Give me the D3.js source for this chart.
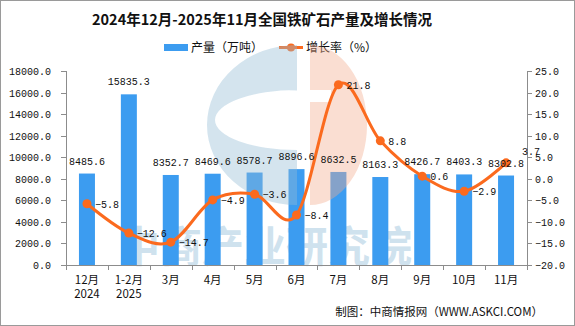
<!DOCTYPE html>
<html><head><meta charset="utf-8">
<script src="https://cdn.jsdelivr.net/npm/d3@7/dist/d3.min.js"></script>
<style>
html,body{margin:0;padding:0;background:#fff;}
svg{display:block;}
</style></head>
<body>
<svg id="c" width="575" height="326"></svg>
<script>
const categories = ["12月","1-2月","3月","4月","5月","6月","7月","8月","9月","10月","11月"];
const yearLabels = ["2024","2025","","","","","","","","",""];
const output = [8485.6,15835.3,8352.7,8469.6,8578.7,8896.6,8632.5,8163.3,8426.7,8403.3,8302.8];
const growth = [-5.8,-12.6,-14.7,-4.9,-3.6,-8.4,21.8,8.8,0.6,-2.9,3.7];
const leftTicks = [0,2000,4000,6000,8000,10000,12000,14000,16000,18000];
const rightTicks = [-20,-15,-10,-5,0,5,10,15,20,25];
const title = "2024年12月-2025年11月全国铁矿石产量及增长情况";
const legendNames = ["产量（万吨）","增长率（%）"];
const credit = "制图：中商情报网（WWW.ASKCI.COM）";

const svg = d3.select("#c");
const W = 575, H = 326;
const L = 66, R = 527, T = 71, B = 265;
const barColor = "#3c9cf0", lineColor = "#fb6a1e", axisColor = "#8c8c8c";
const mono = "'Liberation Mono','DejaVu Sans Mono',monospace";
const cjk = "'Noto Sans CJK SC','Noto Sans',sans-serif";

svg.append("rect").attr("x",0.5).attr("y",0.5).attr("width",W-1).attr("height",H-1)
  .attr("fill","#fff").attr("stroke","#9a9a9a");

const x = d3.scaleBand().domain(categories).range([L,R]).paddingInner(0).paddingOuter(0);
const yL = d3.scaleLinear().domain([0,18000]).range([B,T]);
const yR = d3.scaleLinear().domain([-20,25]).range([B,T]);

// watermark text (behind bars)
svg.append("text").attr("x",118).attr("y",262)
  .attr("font-family",cjk).attr("font-weight","bold").attr("font-size",42)
  .attr("fill","#cfe2ee").text("中商产业研究院");

// title
svg.append("text").attr("x",262).attr("y",25).attr("text-anchor","middle")
  .attr("font-family",cjk).attr("font-weight","bold").attr("font-size",14.5)
  .attr("fill","#111").text(title);

// legend
svg.append("rect").attr("x",164).attr("y",44).attr("width",24).attr("height",7).attr("fill",barColor);
svg.append("text").attr("x",191).attr("y",52).attr("font-family",cjk).attr("font-size",12)
  .attr("fill","#111").text(legendNames[0]);
svg.append("line").attr("x1",279).attr("x2",303).attr("y1",47.5).attr("y2",47.5)
  .attr("stroke",lineColor).attr("stroke-width",3);
svg.append("circle").attr("cx",291).attr("cy",47.5).attr("r",4).attr("fill",lineColor);
svg.append("text").attr("x",306).attr("y",52).attr("font-family",cjk).attr("font-size",12)
  .attr("fill","#111").text(legendNames[1]);

// bars
const bw = 16;
svg.append("g").selectAll("rect").data(output).join("rect")
  .attr("x",(d,i)=>x(categories[i])+x.bandwidth()/2-bw/2)
  .attr("y",d=>yL(d)).attr("width",bw).attr("height",d=>B-yL(d))
  .attr("fill",barColor);

// logo watermark (over bars, translucent)
const wm = svg.append("g");
wm.append("path")
  .attr("d","M297,45 A90,80 0 0 0 297,205 Z M297,90 A82,30 0 0 0 297,150 Z")
  .attr("fill","#94bcd5").attr("opacity",0.4).attr("fill-rule","evenodd");
wm.append("path")
  .attr("d","M310,45 A57,80 0 0 1 310,205 Z M310,90 L331,90 L331,102 L310,102 Z")
  .attr("fill","#f3ad8f").attr("opacity",0.4).attr("fill-rule","evenodd");

// axes
const ax = svg.append("g").attr("stroke",axisColor).attr("fill","none");
ax.append("line").attr("x1",L+0.5).attr("x2",L+0.5).attr("y1",T).attr("y2",B);
ax.append("line").attr("x1",R+0.5).attr("x2",R+0.5).attr("y1",T).attr("y2",B);
ax.append("line").attr("x1",L).attr("x2",R+1).attr("y1",B+0.5).attr("y2",B+0.5);
leftTicks.forEach(t=>{
  ax.append("line").attr("x1",L-5).attr("x2",L).attr("y1",Math.round(yL(t))+0.5).attr("y2",Math.round(yL(t))+0.5);
});
rightTicks.forEach(t=>{
  ax.append("line").attr("x1",R).attr("x2",R+5).attr("y1",Math.round(yR(t))+0.5).attr("y2",Math.round(yR(t))+0.5);
});
categories.forEach((c,i)=>{
  const xx = Math.round(x(c))+0.5;
  ax.append("line").attr("x1",xx).attr("x2",xx).attr("y1",B).attr("y2",B+5);
});
ax.append("line").attr("x1",R+0.5).attr("x2",R+0.5).attr("y1",B).attr("y2",B+5);

svg.append("g").selectAll("text").data(leftTicks).join("text")
  .attr("x",51).attr("y",d=>yL(d)+4).attr("text-anchor","end")
  .attr("font-family",mono).attr("font-size",10).attr("fill","#111")
  .text(d=>d3.format(".1f")(d));
svg.append("g").selectAll("text").data(rightTicks).join("text")
  .attr("x",535).attr("y",d=>yR(d)+4).attr("text-anchor","start")
  .attr("font-family",mono).attr("font-size",10).attr("fill","#111")
  .text(d=>d3.format(".1f")(d).replace("-","−"));

const xl = svg.append("g").attr("font-family",cjk).attr("font-size",11.5).attr("fill","#111").attr("text-anchor","middle");
categories.forEach((c,i)=>{
  const cx = x(c)+x.bandwidth()/2;
  xl.append("text").attr("x",cx).attr("y",284).text(c);
  if (yearLabels[i]) xl.append("text").attr("x",cx).attr("y",298).text(yearLabels[i]);
});

// line
const pts = growth.map((g,i)=>[x(categories[i])+x.bandwidth()/2, yR(g)]);
svg.append("path").attr("d",d3.line().curve(d3.curveCardinal.tension(0))(pts))
  .attr("fill","none").attr("stroke",lineColor).attr("stroke-width",3);
svg.append("g").selectAll("circle").data(pts).join("circle")
  .attr("cx",d=>d[0]).attr("cy",d=>d[1]).attr("r",4.5).attr("fill",lineColor);

// bar labels
svg.append("g").selectAll("text").data(output).join("text")
  .attr("x",(d,i)=>x(categories[i])+x.bandwidth()/2).attr("y",d=>yL(d)-9)
  .attr("text-anchor","middle").attr("font-family",mono).attr("font-size",10).attr("fill","#111")
  .text(d=>d3.format(".1f")(d));

// growth labels
svg.append("g").selectAll("text").data(growth).join("text")
  .attr("x",(d,i)=>pts[i][0]+(i===growth.length-1?16:8))
  .attr("y",(d,i)=>pts[i][1]+4+(i===growth.length-1?-12:0))
  .attr("font-family",mono).attr("font-size",10).attr("fill","#111")
  .text(d=>d3.format(".1f")(d));

// credit
svg.append("text").attr("x",543).attr("y",316).attr("text-anchor","end")
  .attr("font-family",cjk).attr("font-size",11.5).attr("fill","#111").text(credit);
</script>
</body></html>
